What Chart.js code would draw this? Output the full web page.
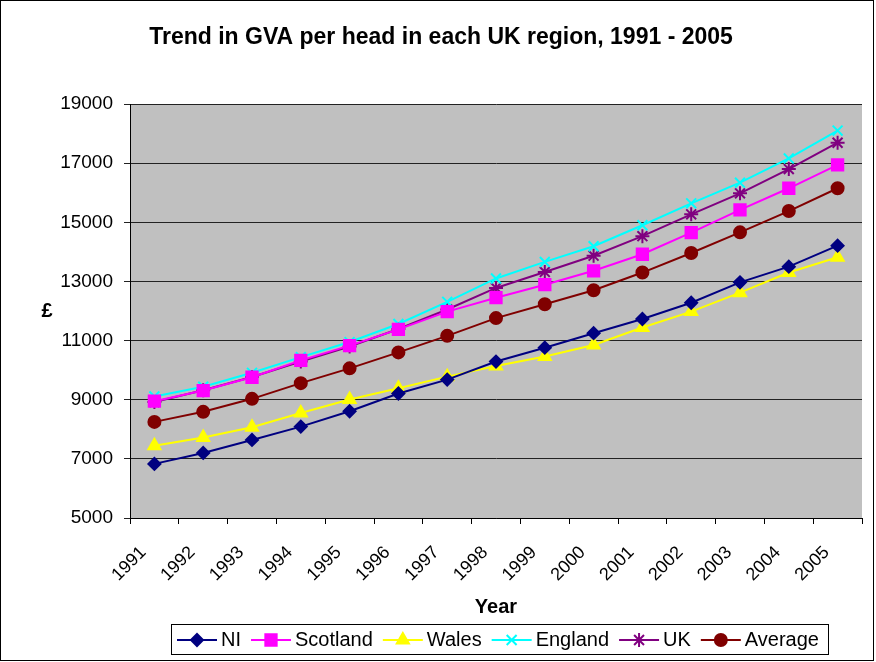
<!DOCTYPE html>
<html>
<head>
<meta charset="utf-8">
<script src="https://cdn.jsdelivr.net/npm/chart.js@4/dist/chart.umd.min.js"></script>
<style>
  body { margin: 0; background: #fff; }
  canvas { display: block; }
</style>
</head>
<body>
<canvas id="chart" width="876" height="662"></canvas>
<script>
// values
const years = ['1991', '1992', '1993', '1994', '1995', '1996', '1997', '1998', '1999', '2000', '2001', '2002', '2003', '2004', '2005'];
const ni = [6830, 7200, 7640, 8090, 8610, 9210, 9680, 10290, 10760, 11250, 11730, 12280, 12970, 13500, 14210];
const scotland = [8950, 9310, 9760, 10330, 10830, 11380, 11980, 12450, 12890, 13360, 13920, 14650, 15420, 16150, 16940];
const wales = [7440, 7720, 8070, 8550, 9010, 9390, 9780, 10140, 10460, 10850, 11440, 11980, 12620, 13300, 13820];
const england = [9110, 9440, 9910, 10440, 10950, 11560, 12310, 13100, 13660, 14190, 14900, 15640, 16340, 17160, 18100];
const uk = [8920, 9320, 9770, 10290, 10800, 11390, 12050, 12780, 13320, 13870, 14530, 15270, 15980, 16800, 17690];
const average = [8250, 8590, 9030, 9560, 10060, 10600, 11160, 11760, 12230, 12700, 13300, 13960, 14660, 15380, 16150];

const chartTitle = 'Trend in GVA per head in each UK region, 1991 - 2005';
const xTitle = 'Year';
const yTitle = '£';
const FONT = '"Liberation Sans", Arial, sans-serif';

function series(label, data, color, style, radius) {
  return {
    label: label,
    data: data,
    borderColor: color,
    backgroundColor: color,
    pointBackgroundColor: color,
    pointBorderColor: color,
    pointStyle: style,
    pointRadius: radius,
    pointBorderWidth: 2,
    borderWidth: 2,
    tension: 0
  };
}

// grey plot background, outer frame, title, axis titles and legend box
const decorations = {
  id: 'decorations',
  beforeDraw(chart) {
    const ctx = chart.ctx;
    const a = chart.chartArea;
    ctx.save();
    ctx.fillStyle = '#fff';
    ctx.fillRect(0, 0, chart.width, chart.height);
    ctx.fillStyle = '#c0c0c0';
    ctx.fillRect(a.left, a.top, a.right - a.left, a.bottom - a.top);
    ctx.restore();
  },
  afterDraw(chart) {
    const ctx = chart.ctx;
    ctx.save();
    ctx.strokeStyle = '#000';
    ctx.lineWidth = 1;
    ctx.strokeRect(0.5, 0.5, 873, 660);

    ctx.fillStyle = '#000';
    ctx.textBaseline = 'middle';
    ctx.textAlign = 'center';
    ctx.font = 'bold 23px ' + FONT;
    ctx.fillText(chartTitle, 441, 38);
    ctx.font = 'bold 20px ' + FONT;
    ctx.fillText(xTitle, 496, 607);
    ctx.fillText(yTitle, 47, 311);

    // legend
    ctx.font = '20px ' + FONT;
    const lineLen = 40, gap = 4, itemGap = 10;
    const boxL = 171, boxR = 828, boxT = 624, boxB = 654;
    ctx.strokeStyle = '#000';
    ctx.lineWidth = 1;
    ctx.strokeRect(boxL + 0.5, boxT + 0.5, boxR - boxL, boxB - boxT);
    let x = 177;
    const y = (boxT + boxB) / 2 + 1;
    chart.data.datasets.forEach(ds => {
      const w = ctx.measureText(ds.label).width;
      ctx.strokeStyle = ds.borderColor;
      ctx.lineWidth = 2;
      ctx.beginPath();
      ctx.moveTo(x, y);
      ctx.lineTo(x + lineLen, y);
      ctx.stroke();
      ctx.fillStyle = ds.pointBackgroundColor;
      Chart.helpers.drawPoint(ctx, {
        pointStyle: ds.pointStyle,
        radius: ds.pointRadius,
        borderWidth: ds.pointBorderWidth,
        rotation: 0
      }, x + lineLen / 2, y);
      ctx.fillStyle = '#000';
      ctx.textAlign = 'left';
      ctx.fillText(ds.label, x + lineLen + gap, y);
      x += lineLen + gap + w + itemGap;
    });
    ctx.restore();
  }
};

new Chart(document.getElementById('chart'), {
  type: 'line',
  data: {
    labels: years,
    datasets: [
      series('NI', ni, '#000080', 'rectRot', 6),
      series('Scotland', scotland, '#ff00ff', 'rect', 8),
      series('Wales', wales, '#ffff00', 'triangle', 7),
      series('England', england, '#00ffff', 'crossRot', 7),
      series('UK', uk, '#800080', 'star', 7),
      series('Average', average, '#800000', 'circle', 6)
    ]
  },
  options: {
    responsive: false,
    animation: false,
    devicePixelRatio: 1,
    layout: { padding: { top: 104, left: 0, right: 14, bottom: 0 } },
    plugins: {
      legend: { display: false },
      title: { display: false },
      tooltip: { enabled: false }
    },
    scales: {
      x: {
        offset: true,
        afterFit: scale => { scale.height = 144; },
        grid: { offset: true, drawOnChartArea: false, drawTicks: true, tickLength: 6, color: '#000' },
        border: { color: '#000', width: 1 },
        ticks: {
          color: '#000',
          font: { family: FONT, size: 18 },
          minRotation: 45,
          maxRotation: 45,
          padding: 18,
          labelOffset: -11,
          autoSkip: false
        }
      },
      y: {
        min: 5000,
        max: 19000,
        afterFit: scale => { scale.width = 130; },
        grid: { color: '#222', lineWidth: 1, tickLength: 6, drawTicks: true },
        border: { color: '#000', width: 1 },
        ticks: {
          stepSize: 2000,
          color: '#000',
          font: { family: FONT, size: 19 },
          padding: 11,
          callback: v => String(v)
        }
      }
    }
  },
  plugins: [decorations]
});
</script>
</body>
</html>
